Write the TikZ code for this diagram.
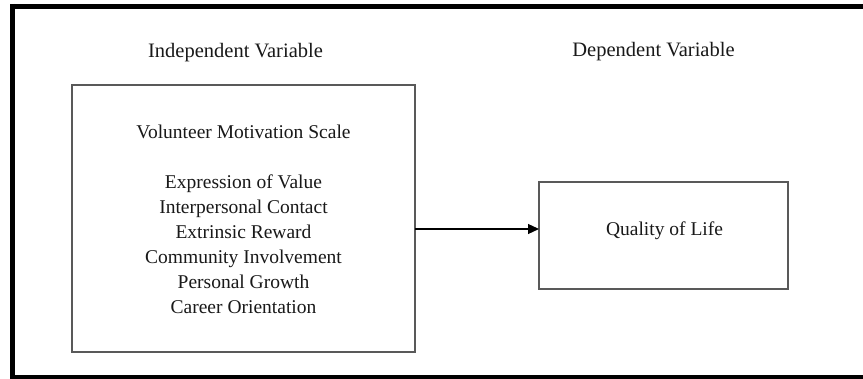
\documentclass[tikz,border=0pt]{standalone}
\usepackage{fontspec}
\setmainfont{Liberation Serif}
\usetikzlibrary{arrows.meta}
\begin{document}
\begin{tikzpicture}[x=1pt,y=-1pt,
  frameline/.style={line width=5pt,black},
  boxstyle/.style={draw=black!65,line width=1.6pt,inner sep=0pt,outer sep=0pt,rectangle},
  headtext/.style={font=\fontsize{20.5}{24}\selectfont,text=black!90,inner sep=0pt,anchor=base},
  bodytext/.style={font=\fontsize{19.5}{24}\selectfont,text=black!90,inner sep=0pt,anchor=base},
  arrowline/.style={line width=1.3pt,-{Triangle[length=11pt,width=10pt]}}]
\useasboundingbox (0,0) rectangle (863,379);
\fill[white] (0,0) rectangle (863,379);
% outer frame (right side cut off)
\draw[frameline] (10,6.5) -- (863,6.5);
\draw[frameline] (12.5,4) -- (12.5,379);
\draw[frameline] (10,377.5) -- (863,377.5);
% headings
\node[headtext] (hind) at (235.5,58) {Independent Variable};
\node[headtext] (hdep) at (653.5,57) {Dependent Variable};
% boxes
\node[boxstyle,minimum width=343pt,minimum height=267pt] (lbox) at (243.5,218.5) {};
\node[boxstyle,minimum width=249pt,minimum height=107pt] (rbox) at (663.5,235.5) {};
% left box text
\node[bodytext] (vms) at (243.5,139) {Volunteer Motivation Scale};
\node[bodytext] (t1) at (243.5,189) {Expression of Value};
\node[bodytext] (t2) at (243.5,214) {Interpersonal Contact};
\node[bodytext] (t3) at (243.5,239) {Extrinsic Reward};
\node[bodytext] (t4) at (243.5,264) {Community Involvement};
\node[bodytext] (t5) at (243.5,289) {Personal Growth};
\node[bodytext] (t6) at (243.5,314) {Career Orientation};
% right box text
\node[bodytext] (qol) at (664.5,236) {Quality of Life};
% arrow
\coordinate (ay) at (0,229);
\draw[arrowline] (lbox.east |- ay) -- (rbox.west |- ay);
\end{tikzpicture}
\end{document}
